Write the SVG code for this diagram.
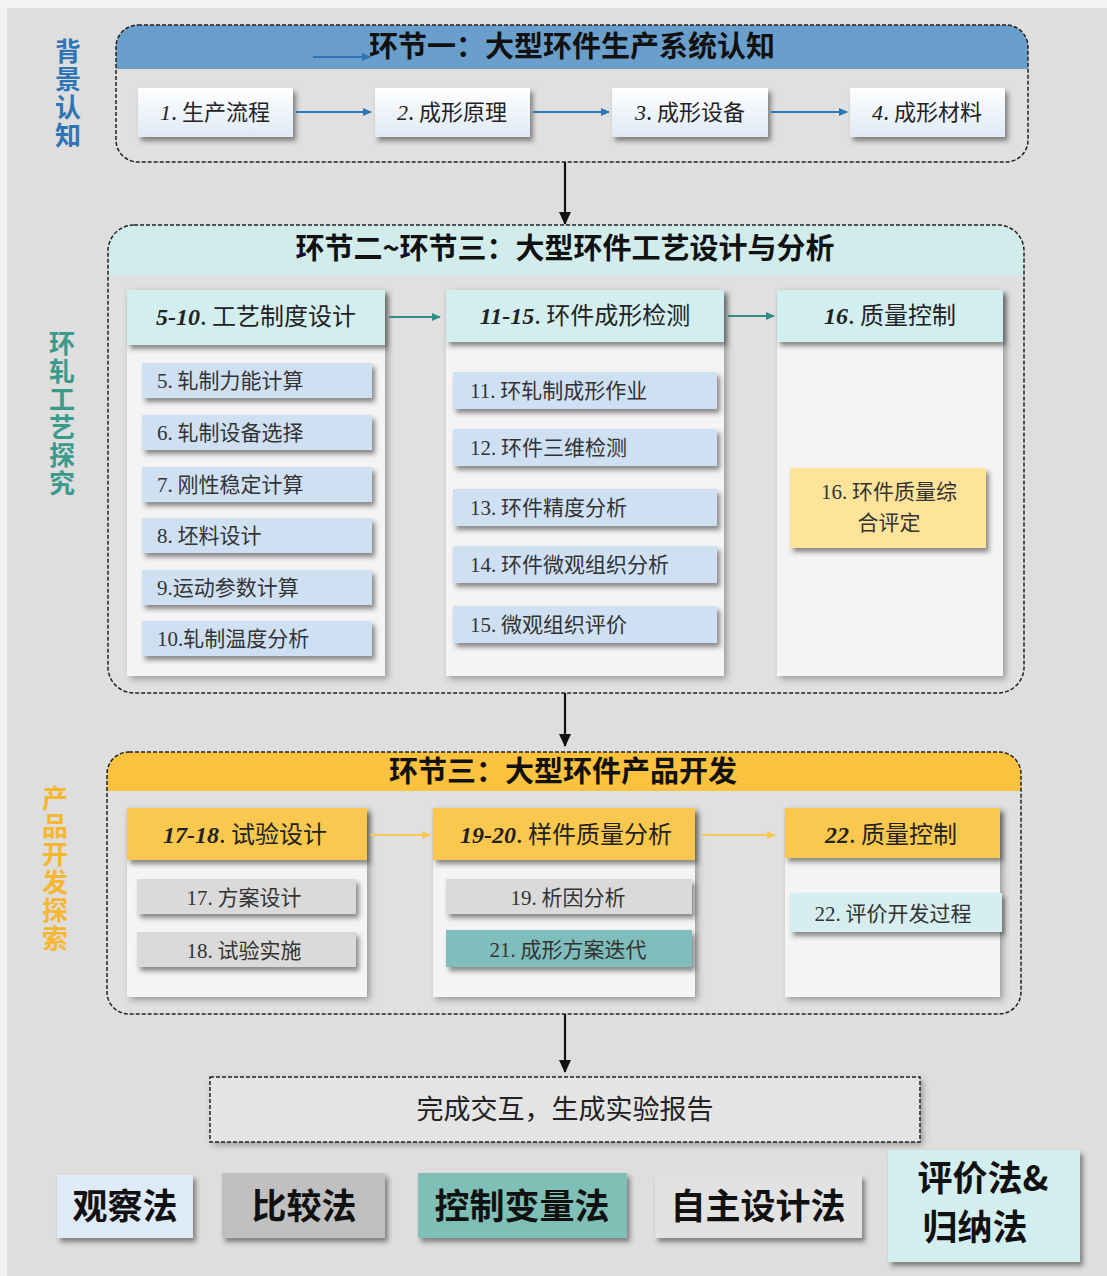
<svg xmlns="http://www.w3.org/2000/svg" width="1107" height="1276" viewBox="0 0 1107 1276">
<defs>
<filter id="sh" x="-10%" y="-20%" width="125%" height="150%">
<feDropShadow dx="3" dy="4" stdDeviation="2.5" flood-color="#333" flood-opacity="0.55"/>
</filter>
<filter id="sh2" x="-10%" y="-10%" width="125%" height="130%">
<feDropShadow dx="3" dy="3" stdDeviation="3" flood-color="#444" flood-opacity="0.45"/>
</filter>
<linearGradient id="g1" x1="0" y1="0" x2="0" y2="1">
<stop offset="0" stop-color="#ffffff"/><stop offset="1" stop-color="#dfe9f4"/>
</linearGradient>
<marker id="ab" markerWidth="10" markerHeight="10" refX="8" refY="5" orient="auto" markerUnits="userSpaceOnUse">
<path d="M0,1 L9,5 L0,9 Z" fill="#2e75b6"/>
</marker>
<marker id="at" markerWidth="10" markerHeight="10" refX="8" refY="5" orient="auto" markerUnits="userSpaceOnUse">
<path d="M0,1 L9,5 L0,9 Z" fill="#2f8f86"/>
</marker>
<marker id="ao" markerWidth="10" markerHeight="10" refX="8" refY="5" orient="auto" markerUnits="userSpaceOnUse">
<path d="M0,1 L9,5 L0,9 Z" fill="#f9c850"/>
</marker>
<marker id="ak" markerWidth="14" markerHeight="14" refX="12" refY="6" orient="auto" markerUnits="userSpaceOnUse">
<path d="M0,0 L13,6 L0,12 Z" fill="#111"/>
</marker>
<clipPath id="c1"><rect x="116" y="25" width="912" height="137" rx="22"/></clipPath>
<clipPath id="c2"><rect x="108" y="225" width="916" height="468" rx="26"/></clipPath>
<clipPath id="c3"><rect x="107" y="752" width="914" height="262" rx="22"/></clipPath>
</defs>
<style>
.cjk{font-family:"Noto Sans CJK SC","Noto Sans",sans-serif;}
.ser{font-family:"Liberation Serif","Noto Sans CJK SC",serif;}
.title{font-family:"Noto Sans CJK SC",sans-serif;font-weight:bold;font-size:29px;fill:#111;text-anchor:middle;}
.hd{font-size:24px;fill:#222;text-anchor:middle;}
.it{font-size:21px;fill:#333;}
.side{font-family:"Noto Sans CJK SC",sans-serif;font-weight:bold;font-size:26px;writing-mode:vertical-rl;letter-spacing:2px;}
.big{font-family:"Noto Sans CJK SC",sans-serif;font-weight:bold;font-size:35px;fill:#111;text-anchor:middle;}
.dash{fill:none;stroke:#222;stroke-width:1.5;stroke-dasharray:4 2;}
.b1{fill:url(#g1);filter:url(#sh);}
.bi{fill:#cfe0f3;filter:url(#sh);}
.body{fill:#f4f4f4;filter:url(#sh2);}
.hc{fill:#d3eeee;filter:url(#sh);}
.ho{fill:#fac84f;filter:url(#sh);}
.gi{fill:#dadada;filter:url(#sh);}
</style>
<rect x="0" y="0" width="1107" height="1276" fill="#f3f3f3"/>
<rect x="7" y="8" width="1100" height="1268" fill="#dedede"/>

<g id="side-labels">
<text class="side" fill="#2e75b6" x="68" y="38">背景认知</text>
<text class="side" fill="#3a9a8c" x="62" y="330">环轧工艺探究</text>
<text class="side" fill="#f5b731" x="55" y="785">产品开发探索</text>
</g>

<g id="section1">
<rect x="116" y="25" width="912" height="137" rx="22" fill="#e0e0e0"/>
<rect x="116" y="25" width="912" height="44" fill="#6a9fcc" clip-path="url(#c1)"/>
<line x1="313" y1="57" x2="370" y2="57" stroke="#2e75b6" stroke-width="2" marker-end="url(#ab)"/>
<text class="title" x="572" y="57">环节一：大型环件生产系统认知</text>
<rect class="dash" x="116" y="25" width="912" height="137" rx="22"/>
</g>
<g id="n1"><rect class="b1" x="138" y="88" width="155" height="49"/><text class="cjk" font-size="22" fill="#222" x="215" y="120" text-anchor="middle"><tspan class="ser" font-style="italic">1</tspan>. 生产流程</text></g>
<g id="n2"><rect class="b1" x="375" y="88" width="155" height="49"/><text class="cjk" font-size="22" fill="#222" x="452" y="120" text-anchor="middle"><tspan class="ser" font-style="italic">2</tspan>. 成形原理</text></g>
<g id="n3"><rect class="b1" x="612" y="88" width="156" height="49"/><text class="cjk" font-size="22" fill="#222" x="690" y="120" text-anchor="middle"><tspan class="ser" font-style="italic">3</tspan>. 成形设备</text></g>
<g id="n4"><rect class="b1" x="850" y="88" width="155" height="49"/><text class="cjk" font-size="22" fill="#222" x="927" y="120" text-anchor="middle"><tspan class="ser" font-style="italic">4</tspan>. 成形材料</text></g>

<g id="section2">
<rect x="108" y="225" width="916" height="468" rx="26" fill="#e0e0e0"/>
<rect x="108" y="225" width="916" height="50" fill="#d2ecec" clip-path="url(#c2)"/>
<text class="title" x="565" y="259">环节二~环节三：大型环件工艺设计与分析</text>
<rect class="dash" x="108" y="225" width="916" height="468" rx="26"/>
</g>
<g id="col1">
<rect class="body" x="127" y="290" width="258" height="386"/>
<rect class="hc" x="127" y="290" width="258" height="55"/>
<text class="cjk hd" x="256" y="325"><tspan class="ser" font-weight="bold" font-style="italic">5-10</tspan>. 工艺制度设计</text>
</g>
<g id="n5"><rect class="bi" x="142" y="363" width="230" height="35"/><text class="cjk it" x="157" y="388"><tspan class="ser">5.</tspan> 轧制力能计算</text></g>
<g id="n6"><rect class="bi" x="142" y="415" width="230" height="35"/><text class="cjk it" x="157" y="440"><tspan class="ser">6.</tspan> 轧制设备选择</text></g>
<g id="n7"><rect class="bi" x="142" y="467" width="230" height="35"/><text class="cjk it" x="157" y="492"><tspan class="ser">7.</tspan> 刚性稳定计算</text></g>
<g id="n8"><rect class="bi" x="142" y="518" width="230" height="35"/><text class="cjk it" x="157" y="543"><tspan class="ser">8.</tspan> 坯料设计</text></g>
<g id="n9"><rect class="bi" x="142" y="570" width="230" height="35"/><text class="cjk it" x="157" y="595"><tspan class="ser">9.</tspan>运动参数计算</text></g>
<g id="n10"><rect class="bi" x="142" y="621" width="230" height="35"/><text class="cjk it" x="157" y="646"><tspan class="ser">10.</tspan>轧制温度分析</text></g>

<g id="col2">
<rect class="body" x="446" y="290" width="278" height="386"/>
<rect class="hc" x="446" y="290" width="278" height="52"/>
<text class="cjk hd" x="585" y="324"><tspan class="ser" font-weight="bold" font-style="italic">11-15</tspan>. 环件成形检测</text>
</g>
<g id="n11"><rect class="bi" x="453" y="372" width="264" height="37"/><text class="cjk it" x="470" y="398"><tspan class="ser">11.</tspan> 环轧制成形作业</text></g>
<g id="n12"><rect class="bi" x="453" y="429" width="264" height="37"/><text class="cjk it" x="470" y="455"><tspan class="ser">12.</tspan> 环件三维检测</text></g>
<g id="n13"><rect class="bi" x="453" y="489" width="264" height="37"/><text class="cjk it" x="470" y="515"><tspan class="ser">13.</tspan> 环件精度分析</text></g>
<g id="n14"><rect class="bi" x="453" y="546" width="264" height="37"/><text class="cjk it" x="470" y="572"><tspan class="ser">14.</tspan> 环件微观组织分析</text></g>
<g id="n15"><rect class="bi" x="453" y="606" width="264" height="37"/><text class="cjk it" x="470" y="632"><tspan class="ser">15.</tspan> 微观组织评价</text></g>

<g id="col3">
<rect class="body" x="777" y="290" width="226" height="386"/>
<rect class="hc" x="777" y="290" width="226" height="52"/>
<text class="cjk hd" x="890" y="324"><tspan class="ser" font-weight="bold" font-style="italic">16</tspan>. 质量控制</text>
</g>
<g id="n16"><rect fill="#fde49a" filter="url(#sh)" x="790" y="468" width="196" height="80"/><text class="cjk it" fill="#222" text-anchor="middle" x="889" y="499"><tspan class="ser">16.</tspan> 环件质量综</text><text class="cjk it" fill="#222" text-anchor="middle" x="889" y="530">合评定</text></g>

<g id="section3">
<rect x="107" y="752" width="914" height="262" rx="22" fill="#e0e0e0"/>
<rect x="107" y="752" width="914" height="39" fill="#fac23e" clip-path="url(#c3)"/>
<text class="title" x="563" y="782">环节三：大型环件产品开发</text>
<rect class="dash" x="107" y="752" width="914" height="262" rx="22"/>
</g>
<g id="col4">
<rect class="body" x="127" y="808" width="240" height="189"/>
<rect class="ho" x="127" y="808" width="240" height="52"/>
<text class="cjk hd" x="245" y="843"><tspan class="ser" font-weight="bold" font-style="italic">17-18</tspan>. 试验设计</text>
</g>
<g id="n17"><rect class="gi" x="137" y="879" width="219" height="35"/><text class="cjk it" text-anchor="middle" x="244" y="905"><tspan class="ser">17.</tspan> 方案设计</text></g>
<g id="n18"><rect class="gi" x="137" y="932" width="219" height="35"/><text class="cjk it" text-anchor="middle" x="244" y="958"><tspan class="ser">18.</tspan> 试验实施</text></g>

<g id="col5">
<rect class="body" x="433" y="808" width="262" height="189"/>
<rect class="ho" x="433" y="808" width="262" height="52"/>
<text class="cjk hd" x="566" y="843"><tspan class="ser" font-weight="bold" font-style="italic">19-20</tspan>. 样件质量分析</text>
</g>
<g id="n19"><rect class="gi" x="446" y="879" width="246" height="35"/><text class="cjk it" text-anchor="middle" x="568" y="905"><tspan class="ser">19.</tspan> 析因分析</text></g>
<g id="n21"><rect fill="#7fbebd" filter="url(#sh)" x="446" y="930" width="246" height="37"/><text class="cjk it" text-anchor="middle" x="568" y="957"><tspan class="ser">21.</tspan> 成形方案迭代</text></g>

<g id="col6">
<rect class="body" x="785" y="808" width="215" height="189"/>
<rect class="ho" x="785" y="808" width="215" height="50"/>
<text class="cjk hd" x="891" y="843"><tspan class="ser" font-weight="bold" font-style="italic">22</tspan>. 质量控制</text>
</g>
<g id="n22"><rect fill="#d6eef0" filter="url(#sh)" x="790" y="893" width="212" height="39"/><text class="cjk it" text-anchor="middle" x="893" y="921"><tspan class="ser">22.</tspan> 评价开发过程</text></g>

<g id="report">
<rect x="210" y="1077" width="710" height="65" fill="#e4e4e4" filter="url(#sh2)"/>
<rect class="dash" x="210" y="1077" width="710" height="65"/>
<text class="cjk" font-size="27" fill="#222" text-anchor="middle" x="565" y="1119">完成交互，生成实验报告</text>
</g>

<g id="methods">
<g id="m1"><rect fill="#deeaf6" filter="url(#sh)" x="57" y="1175" width="136" height="63"/><text class="big" x="125" y="1219">观察法</text></g>
<g id="m2"><rect fill="#c0c0c0" filter="url(#sh)" x="222" y="1173" width="163" height="65"/><text class="big" x="304" y="1219">比较法</text></g>
<g id="m3"><rect fill="#80bfb5" filter="url(#sh)" x="418" y="1173" width="209" height="65"/><text class="big" x="522" y="1219">控制变量法</text></g>
<g id="m4"><rect fill="#e2e2e2" filter="url(#sh)" x="655" y="1175" width="207" height="63"/><text class="big" x="758" y="1219">自主设计法</text></g>
<g id="m5"><rect fill="#d3eeee" filter="url(#sh)" x="888" y="1150" width="192" height="112"/><text class="big" font-size="32" x="983" y="1191">评价法&amp;</text><text class="big" font-size="32" x="975" y="1240">归纳法</text></g>
</g>

<g id="connectors">
<line x1="296" y1="112" x2="371" y2="112" stroke="#2e75b6" stroke-width="2" marker-end="url(#ab)"/>
<line x1="533" y1="112" x2="609" y2="112" stroke="#2e75b6" stroke-width="2" marker-end="url(#ab)"/>
<line x1="771" y1="112" x2="847" y2="112" stroke="#2e75b6" stroke-width="2" marker-end="url(#ab)"/>
<line x1="565" y1="162" x2="565" y2="224" stroke="#111" stroke-width="2.2" marker-end="url(#ak)"/>
<line x1="389" y1="317" x2="440" y2="317" stroke="#2f8f86" stroke-width="1.8" marker-end="url(#at)"/>
<line x1="728" y1="316" x2="774" y2="316" stroke="#2f8f86" stroke-width="1.8" marker-end="url(#at)"/>
<line x1="565" y1="693" x2="565" y2="746" stroke="#111" stroke-width="2.2" marker-end="url(#ak)"/>
<line x1="370" y1="835" x2="430" y2="835" stroke="#f9c850" stroke-width="1.8" marker-end="url(#ao)"/>
<line x1="702" y1="835" x2="775" y2="835" stroke="#f9c850" stroke-width="1.8" marker-end="url(#ao)"/>
<line x1="565" y1="1014" x2="565" y2="1072" stroke="#111" stroke-width="2.2" marker-end="url(#ak)"/>
</g>
</svg>
